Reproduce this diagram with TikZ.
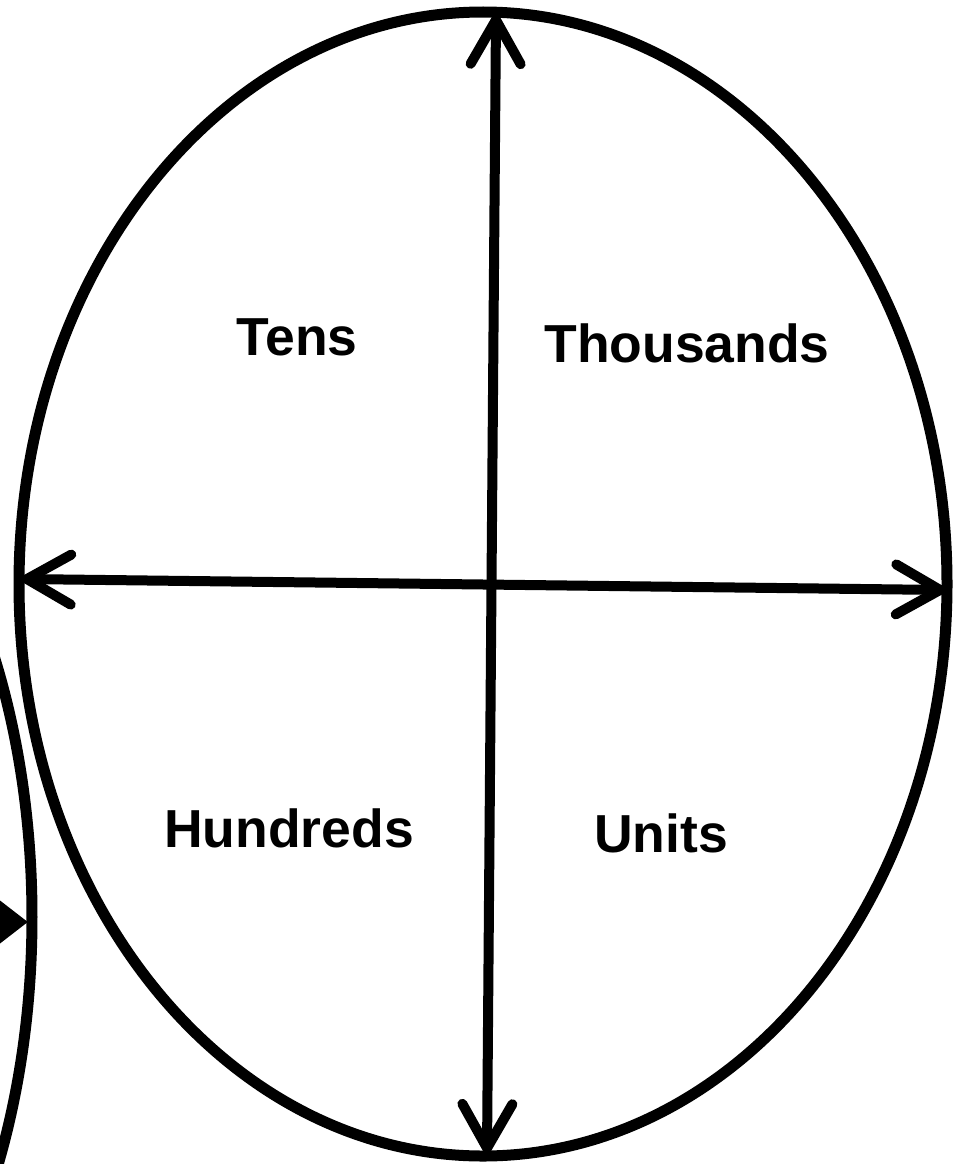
\documentclass[tikz,border=0pt]{standalone}
\usepackage{fontspec}
\setmainfont{Liberation Sans}
\usetikzlibrary{arrows.meta}
\tikzset{
  rim/.style={line width=11pt},
  axisarrow/.style={line width=10pt, {Straight Barb[length=44pt,width=50pt,round]}-{Straight Barb[length=44pt,width=50pt,round]}},
  placelabel/.style={font=\fontsize{53.5}{60}\selectfont\bfseries, inner sep=0pt}
}
\begin{document}
\begin{tikzpicture}[x=1pt,y=-1pt]
\useasboundingbox (0,0) rectangle (968,1164);
\clip (0,0) rectangle (968,1164);
% big ellipse
\draw[rim] (483,584) ellipse [x radius=464, y radius=572];
% end points of the axes
\coordinate (top) at (496,15);
\coordinate (bottom) at (487,1153);
\coordinate (left) at (22,579);
\coordinate (right) at (945,590);
\draw[axisarrow] (bottom) -- (top);
\draw[axisarrow] (left) -- (right);
% neighbouring ellipse, cut by the edge
\draw[rim] (-298,917) ellipse [x radius=330, y radius=560];
\coordinate (tail) at (-40,922);
\coordinate (head) at (28,922);
\draw[line width=8pt, -{Triangle[length=30pt,width=44pt]}] (tail) -- (head);
% place values
\node[placelabel] (tens) at (297,337) {Tens};
\node[placelabel] (thousands) at (687,343) {Thousands};
\node[placelabel] (hundreds) at (289,828) {Hundreds};
\node[placelabel] (units) at (661,833) {Units};
\end{tikzpicture}
\end{document}
